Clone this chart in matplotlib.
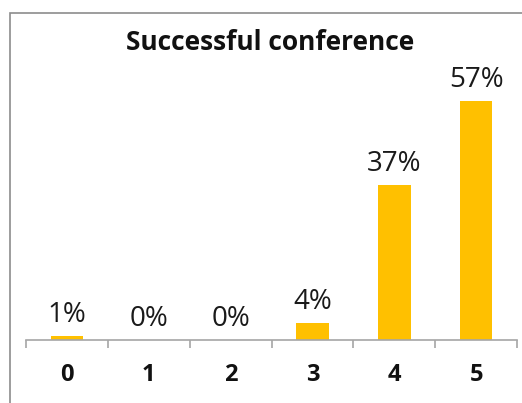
import matplotlib.pyplot as plt
from matplotlib.patches import Rectangle

# survey scores and share of responses (%)
scores = ['0', '1', '2', '3', '4', '5']
shares = [1, 0, 0, 4, 37, 57]

W, H = 522, 403
fig = plt.figure(figsize=(W / 100, H / 100), dpi=100)
plt.rcParams['font.family'] = ['Open Sans', 'DejaVu Sans']

# chart frame (right and bottom sides run off the canvas)
fig.add_artist(Rectangle((10 / W, -0.05), 1.0, (H - 13) / H + 0.05,
                         transform=fig.transFigure, fill=False,
                         edgecolor='#8c8c8c', linewidth=1.2))

ax = fig.add_axes([26 / W, (H - 340) / H, (517 - 26) / W, (340 - 80) / H])
x = range(len(scores))
bars = ax.bar(x, shares, width=0.4, color='#FFC000')
ax.set_xlim(-0.5, len(scores) - 0.5)
ax.set_ylim(0, 62)

for i, v in zip(x, shares):
    ax.annotate('%d%%' % v, (i, v), xytext=(0, 10), textcoords='offset points',
                ha='center', va='baseline', fontsize=20, color='#1a1a1a')

for s in ['left', 'right', 'top']:
    ax.spines[s].set_visible(False)
ax.spines['bottom'].set_color('#a6a6a6')
ax.spines['bottom'].set_linewidth(1.2)
ax.set_yticks([])

# tick marks sit between categories, labels under each bar
ax.set_xticks([i - 0.5 for i in range(len(scores) + 1)])
ax.set_xticklabels([])
ax.tick_params(axis='x', length=6, width=1.2, color='#a6a6a6')
for i, s in zip(x, scores):
    ax.text(i, -35 / 260, s, transform=ax.get_xaxis_transform(), ha='center',
            va='center', fontsize=17, fontweight='bold', color='#111111')

fig.text(270 / W, 1 - 43 / H, 'Successful conference', ha='center',
         va='center', fontsize=19, fontweight='bold', color='#111111')

fig.savefig('out.png', dpi=100)
